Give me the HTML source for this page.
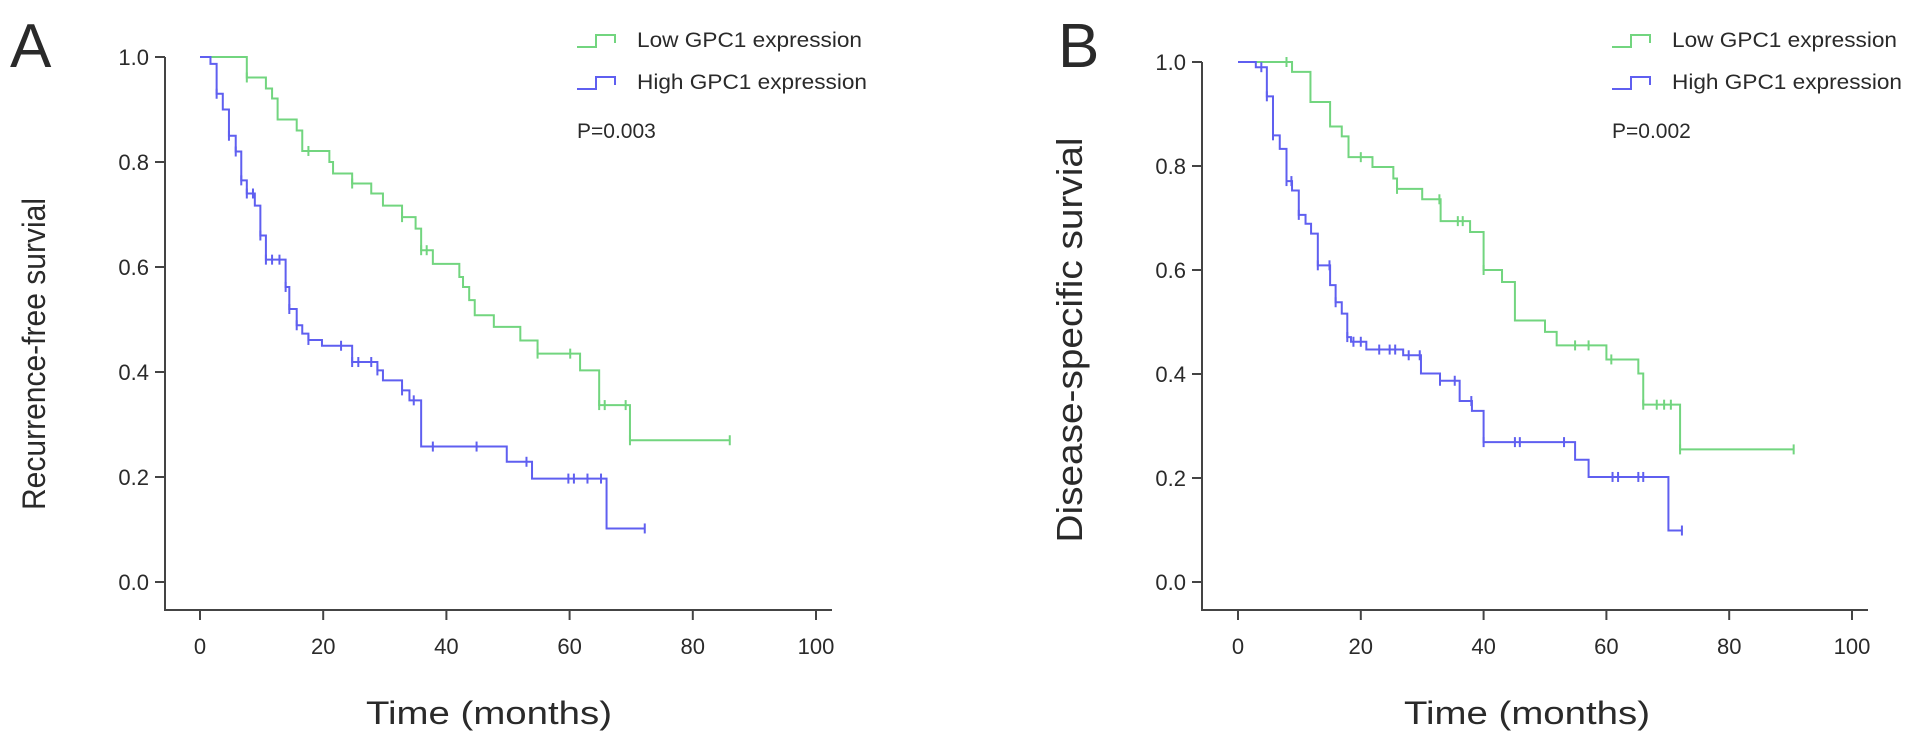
<!DOCTYPE html>
<html><head><meta charset="utf-8"><style>
body{margin:0;background:#fff;}
svg text{font-family:"Liberation Sans",Arial,sans-serif;fill:#2a2a2a;}
</style></head><body>
<svg id="chart" width="1913" height="749" xmlns="http://www.w3.org/2000/svg"></svg>
<script>
// Panel A data
const aLowSteps = [[0,1],[7.6,.961],[10.7,.94],[11.7,.921],[12.6,.881],[15.7,.86],[16.6,.821],[21,.80],[21.6,.778],[24.7,.759],[27.8,.74],[29.7,.717],[32.8,.695],[35,.673],[35.9,.632],[37.8,.606],[42.1,.581],[42.7,.562],[43.7,.537],[44.6,.508],[47.7,.486],[52,.46],[54.8,.435],[61.7,.403],[64.8,.337],[69.8,.27]];
const aLowEnd = 86;
const aLowCens = [7.6,17.6,24.7,32.8,35.9,36.8,54.8,60.1,64.8,65.7,69.1,69.8,86];
const aHighSteps = [[0,1],[1.7,.987],[2.7,.93],[3.7,.90],[4.7,.85],[5.8,.82],[6.7,.765],[7.6,.74],[8.9,.717],[9.8,.66],[10.7,.614],[13.9,.562],[14.5,.52],[15.7,.489],[16.6,.473],[17.6,.461],[19.8,.45],[24.7,.419],[28.8,.403],[29.7,.384],[32.8,.365],[34,.346],[35.9,.258],[49.8,.229],[53.9,.197],[66,.102]];
const aHighEnd = 72.2;
const aHighCens = [2.7,4.7,5.8,6.7,7.6,8.6,9.8,10.7,11.7,12.9,13.9,14.5,15.7,17.6,22.9,24.7,25.7,27.8,28.8,32.8,34.7,37.8,44.9,53,59.8,60.7,62.9,65.1,72.2];
// Panel B data
const bLowSteps = [[0,1],[8.8,.981],[11.8,.923],[15,.876],[16.9,.857],[18,.817],[21.9,.798],[25.3,.776],[25.9,.756],[30,.736],[33,.694],[37.8,.673],[40,.60],[43,.577],[45.1,.503],[50,.481],[51.9,.455],[60,.428],[65.2,.401],[66,.341],[72,.255]];
const bLowEnd = 90.5;
const bLowCens = [7.9,20,25.9,32.8,35.8,36.6,40,54.9,57.1,60.8,66,68.2,69.4,70.5,72,90.5];
const bHighSteps = [[0,1],[2.9,.99],[4.7,.934],[5.7,.859],[6.8,.833],[7.9,.771],[8.8,.753],[9.9,.706],[11,.689],[11.9,.67],[13,.609],[15,.571],[15.9,.538],[16.9,.516],[17.8,.471],[18.4,.462],[20.9,.447],[26.9,.436],[29.8,.401],[32.9,.387],[36.1,.348],[38.1,.329],[40,.269],[54.9,.235],[57.1,.202],[70.1,.099]];
const bHighEnd = 72.3;
const bHighCens = [3.8,4.7,5.7,7.9,8.7,9.9,13,14.9,15.9,17.8,18.8,20,23,24.7,25.6,27.8,29.6,32.9,35.3,38,40,45.1,45.9,53.1,61,61.9,65.2,66,72.3];
const xTicks = [0,20,40,60,80,100];
const yTicks = [0.0,0.2,0.4,0.6,0.8,1.0];

const NS="http://www.w3.org/2000/svg";
const svg=document.getElementById('chart');
const GREEN="#72d57f", BLUE="#5f5ff0", AX="#444";
function mk(tag,attrs,parent){const e=document.createElementNS(NS,tag);for(const k in attrs)e.setAttribute(k,attrs[k]);(parent||svg).appendChild(e);return e;}

function panel(p){
  const g=mk('g',{});
  
  
  const sx=v=>p.x0+(p.x100-p.x0)*v/100;
  const sy=v=>p.y0+(p.y1-p.y0)*v;
  const axY=610;
  // axes
  const ya=mk('line',{x1:p.ax,y1:sy(1),x2:p.ax,y2:axY,stroke:AX,'stroke-width':2},g);
  
  
  const xa=mk('line',{x1:p.ax-1,y1:axY,x2:sx(100)+16,y2:axY,stroke:AX,'stroke-width':2},g);
  
  
  yTicks.forEach(t=>{
    mk('line',{x1:p.ax-10,y1:sy(t),x2:p.ax,y2:sy(t),stroke:AX,'stroke-width':2},g);
    const tx=mk('text',{x:p.ax-16,y:sy(t)+8,'font-size':22,'text-anchor':'end'},g);
    tx.textContent=t.toFixed(1);
    
    
  });
  xTicks.forEach(t=>{
    mk('line',{x1:sx(t),y1:axY,x2:sx(t),y2:axY+10,stroke:AX,'stroke-width':2},g);
    const tx=mk('text',{x:sx(t),y:axY+44,'font-size':22,'text-anchor':'middle'},g);
    tx.textContent=t;
    
    
  });
  const xt=mk('text',{x:p.xtc,y:724,'font-size':32,'text-anchor':'middle',textLength:246,lengthAdjust:'spacingAndGlyphs'},g);
  xt.textContent='Time (months)';
  
  
  const yt=mk('text',{x:0,y:0,'font-size':p.ytFont,'text-anchor':'middle',textLength:p.ytLen,lengthAdjust:'spacingAndGlyphs',transform:`translate(${p.ytx},${p.yty}) rotate(-90)`},g);
  yt.textContent=p.ytitle;
  
  
  const lt=mk('text',{x:p.lx,y:67,'font-size':62},g);
  lt.textContent=p.letter;
  
  
  // curves
  function curve(steps,end,cens,col,nm){
    let d=`M${sx(steps[0][0])},${sy(steps[0][1])}`;
    for(let i=1;i<steps.length;i++){d+=` H${sx(steps[i][0])} V${sy(steps[i][1])}`;}
    d+=` H${sx(end)}`;
    const pa=mk('path',{d:d,fill:'none',stroke:col,'stroke-width':2},g);
    
    
    const survAt=t=>{let s=steps[0][1];for(const st of steps){if(st[0]<=t+1e-9)s=st[1];}return s;};
    cens.forEach(c=>{
      const cm=mk('line',{x1:sx(c),y1:sy(survAt(c))-5,x2:sx(c),y2:sy(survAt(c))+5,stroke:col,'stroke-width':2},g);
      
      
    });
  }
  curve(p.low[0],p.low[1],p.low[2],GREEN,'low-gpc1');
  curve(p.high[0],p.high[1],p.high[2],BLUE,'high-gpc1');
  // legend
  [[GREEN,'Low GPC1 expression',40,'legend-low'],[BLUE,'High GPC1 expression',82,'legend-high']].forEach(l=>{
    const ll=mk('path',{d:`M${p.leg},${l[2]+7} h19 v-12 h19 v8`,fill:'none',stroke:l[0],'stroke-width':2},g);
    
    
    const t=mk('text',{x:p.leg+60,y:l[2]+7,'font-size':21,textLength:l[1].startsWith('Low')?225:230,lengthAdjust:'spacingAndGlyphs'},g);
    t.textContent=l[1];
    
    
  });
  const pv=mk('text',{x:p.leg,y:138,'font-size':21},g);
  pv.textContent=p.pval;
  
  
}
panel({name:'panel-a',x0:200,x100:816,y0:582,y1:57,ax:165,xtc:489,ytx:45,yty:354,ytFont:32,ytLen:312,ytitle:'Recurrence-free survial',lx:10,letter:'A',leg:577,pval:'P=0.003',low:[aLowSteps,aLowEnd,aLowCens],high:[aHighSteps,aHighEnd,aHighCens]});
panel({name:'panel-b',x0:1238,x100:1852,y0:582,y1:62,ax:1202,xtc:1527,ytx:1082,yty:340,ytFont:36,ytLen:405,ytitle:'Disease-specific survial',lx:1058,letter:'B',leg:1612,pval:'P=0.002',low:[bLowSteps,bLowEnd,bLowCens],high:[bHighSteps,bHighEnd,bHighCens]});
</script>
</body></html>
